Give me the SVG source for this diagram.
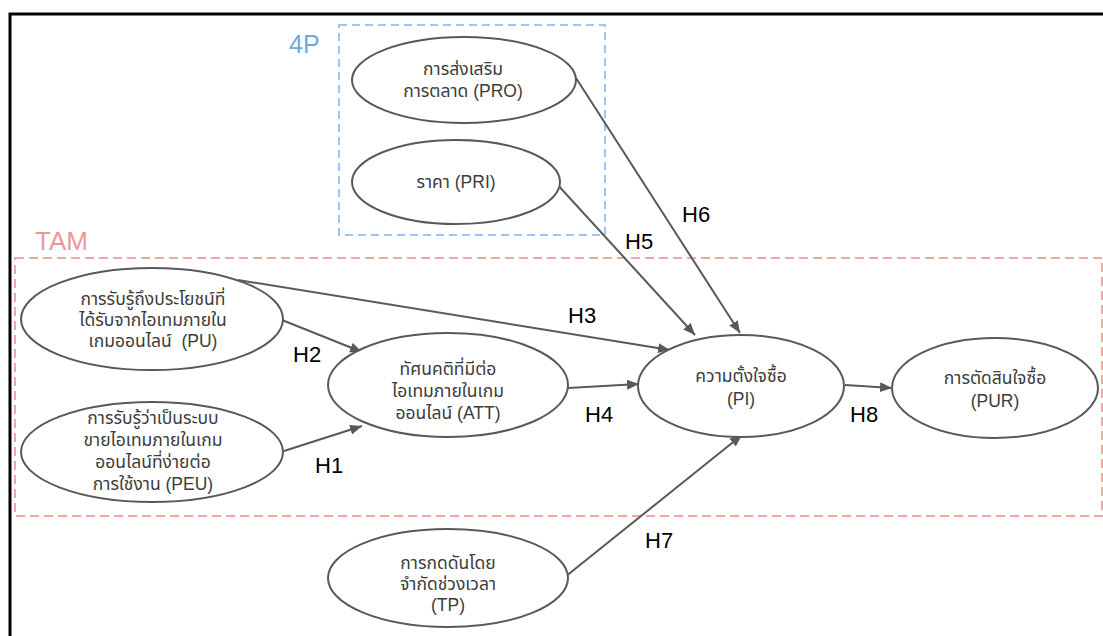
<svg xmlns="http://www.w3.org/2000/svg" width="1103" height="636" viewBox="0 0 1103 636">
<defs>
<marker id="arr" markerUnits="userSpaceOnUse" markerWidth="13" markerHeight="11" refX="12" refY="5" orient="auto">
<path d="M0,0 L12,5 L0,10 z" fill="#595959"/>
</marker>
<style>
.node ellipse{fill:#fff;stroke:#595959;stroke-width:2}
.node text{font-family:"Liberation Sans","Noto Sans Thai","Noto Sans",sans-serif;font-size:17.5px;fill:#3c3c3c;text-anchor:middle}
.conn line{stroke:#595959;stroke-width:2;marker-end:url(#arr)}
.lbl{font-family:"Liberation Sans",Arial,sans-serif;font-size:22px;fill:#000}
</style>
</defs>
<rect width="1103" height="636" fill="#fff"/>
<rect x="10" y="14" width="1110" height="640" fill="none" stroke="#000" stroke-width="3"/>
<g id="group-4p">
<rect x="339" y="25" width="266" height="210" fill="none" stroke="#9fc5f8" stroke-width="2" stroke-dasharray="8,5"/>
<text x="289" y="53" font-family="Liberation Sans, Arial, sans-serif" font-size="25" fill="#6fa8dc">4P</text>
</g>
<g id="group-tam">
<rect x="15" y="258" width="1087" height="258" fill="none" stroke="#f4a7a1" stroke-width="2" stroke-dasharray="9,5"/>
<text x="35" y="250" font-family="Liberation Sans, Arial, sans-serif" font-size="26" fill="#ea9999">TAM</text>
</g>
<g id="connectors" class="conn">
<line x1="576" y1="78" x2="740" y2="333"/>
<line x1="556" y1="183" x2="695" y2="335"/>
<line x1="238" y1="280" x2="670" y2="350"/>
<line x1="282" y1="320" x2="362" y2="352"/>
<line x1="284" y1="451" x2="362" y2="426"/>
<line x1="568" y1="388" x2="639" y2="384"/>
<line x1="845" y1="385" x2="892" y2="388"/>
<line x1="565" y1="577" x2="742" y2="435"/>
</g>
<g id="labels">
<text class="lbl" x="682" y="222">H6</text>
<text class="lbl" x="625" y="249">H5</text>
<text class="lbl" x="568" y="323">H3</text>
<text class="lbl" x="293" y="362">H2</text>
<text class="lbl" x="585" y="422">H4</text>
<text class="lbl" x="315" y="473">H1</text>
<text class="lbl" x="850" y="422">H8</text>
<text class="lbl" x="645" y="548">H7</text>
</g>
<g id="node-pro" class="node">
<ellipse cx="464" cy="80" rx="112" ry="43"/>
<text x="463" y="75">การส่งเสริม</text>
<text x="463" y="97">การตลาด (PRO)</text>
</g>
<g id="node-pri" class="node">
<ellipse cx="456" cy="182" rx="104" ry="42"/>
<text x="456" y="188">ราคา (PRI)</text>
</g>
<g id="node-pu" class="node">
<ellipse cx="152" cy="319" rx="131" ry="51"/>
<text x="153" y="305">การรับรู้ถึงประโยชน์ที่</text>
<text x="153" y="326">ได้รับจากไอเทมภายใน</text>
<text x="153" y="347">เกมออนไลน์&#160; (PU)</text>
</g>
<g id="node-peu" class="node">
<ellipse cx="152" cy="452" rx="131" ry="50"/>
<text x="153" y="424">การรับรู้ว่าเป็นระบบ</text>
<text x="153" y="446">ขายไอเทมภายในเกม</text>
<text x="153" y="468">ออนไลน์ที่ง่ายต่อ</text>
<text x="153" y="490">การใช้งาน (PEU)</text>
</g>
<g id="node-att" class="node">
<ellipse cx="448" cy="385" rx="120" ry="52"/>
<text x="448" y="375">ทัศนคติที่มีต่อ</text>
<text x="448" y="397">ไอเทมภายในเกม</text>
<text x="448" y="419">ออนไลน์ (ATT)</text>
</g>
<g id="node-pi" class="node">
<ellipse cx="741" cy="386" rx="103" ry="51"/>
<text x="741" y="382">ความตั้งใจซื้อ</text>
<text x="741" y="405">(PI)</text>
</g>
<g id="node-pur" class="node">
<ellipse cx="995" cy="388" rx="103" ry="50"/>
<text x="995" y="384">การตัดสินใจซื้อ</text>
<text x="995" y="407">(PUR)</text>
</g>
<g id="node-tp" class="node">
<ellipse cx="448" cy="578" rx="120" ry="49"/>
<text x="448" y="569">การกดดันโดย</text>
<text x="448" y="590">จำกัดช่วงเวลา</text>
<text x="448" y="611">(TP)</text>
</g>
</svg>
